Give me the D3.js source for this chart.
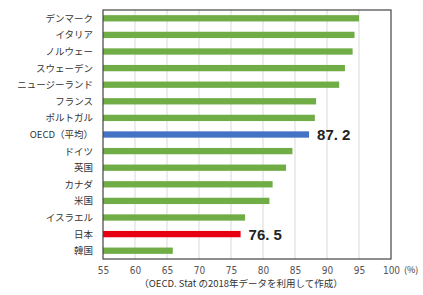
<!DOCTYPE html>
<html><head><meta charset="utf-8">
<script src="https://cdn.jsdelivr.net/npm/d3@7"></script>
<style>body{margin:0;background:#fff}svg{display:block}</style>
</head><body>
<script>
const categories = ["デンマーク","イタリア","ノルウェー","スウェーデン","ニュージーランド","フランス","ポルトガル","OECD（平均）","ドイツ","英国","カナダ","米国","イスラエル","日本","韓国"];
const values = [95.0,94.3,94.0,92.8,91.9,88.3,88.1,87.2,84.6,83.6,81.5,81.0,77.2,76.5,65.9];
const highlight = {"OECD（平均）":{color:"#4472c4",label:"87. 2"},"日本":{color:"#e60012",label:"76. 5"}};
const xTicks = [55,60,65,70,75,80,85,90,95,100];
const unitLabel = "(%)";
const sourceNote = "（OECD. Stat の2018年データを利用して作成）";

const W=423,H=295;
const m={l:103,r:32,t:10,b:36};
const svg=d3.select("body").append("svg").attr("width",W).attr("height",H);
const x=d3.scaleLinear().domain([55,100]).range([m.l,W-m.r]);
const y=d3.scaleBand().domain(categories).range([m.t,H-m.b]).paddingInner(0.62).paddingOuter(0.31);
const font="'Noto Sans CJK JP','Noto Sans',sans-serif";

svg.append("g").selectAll("line").data(xTicks.slice(1,-1)).join("line")
  .attr("x1",d=>x(d)).attr("x2",d=>x(d)).attr("y1",m.t).attr("y2",H-m.b)
  .attr("stroke","#d9d9d9").attr("stroke-width",1);

svg.append("g").selectAll("rect").data(categories).join("rect")
  .attr("x",x(55)).attr("y",d=>y(d)).attr("height",y.bandwidth())
  .attr("width",(d,i)=>x(values[i])-x(55))
  .attr("fill",d=>highlight[d]?highlight[d].color:"#70ad47");

svg.append("g").selectAll("text").data(categories.filter(d=>highlight[d])).join("text")
  .attr("x",d=>x(values[categories.indexOf(d)])+8)
  .attr("y",d=>y(d)+y.bandwidth()/2)
  .attr("dy","0.36em")
  .attr("font-family","'Liberation Sans Narrow','Liberation Sans',sans-serif")
  .attr("font-weight","bold").attr("font-size",15).attr("fill","#222")
  .text(d=>highlight[d].label);

svg.append("rect").attr("x",m.l).attr("y",m.t).attr("width",W-m.r-m.l).attr("height",H-m.b-m.t)
  .attr("fill","none").attr("stroke","#444").attr("stroke-width",1.2);

svg.append("g").selectAll("text").data(categories).join("text")
  .attr("x",m.l-10).attr("y",d=>y(d)+y.bandwidth()/2).attr("dy","0.36em")
  .attr("text-anchor","end").attr("font-family",font).attr("font-size",9.5).attr("fill","#333")
  .text(d=>d);

const xa=svg.append("g").attr("transform",`translate(0,${H-m.b})`)
  .call(d3.axisBottom(x).tickValues(xTicks).tickSize(0).tickPadding(8));
xa.select(".domain").remove();
xa.selectAll("text").attr("font-family","'Liberation Sans Narrow','DejaVu Sans Condensed',sans-serif").attr("font-size",10).attr("fill","#555");

svg.append("text").attr("x",404).attr("y",H-m.b+14).attr("font-family",font).attr("font-size",9).attr("fill","#333").text(unitLabel);
svg.append("text").attr("x",241).attr("y",287).attr("text-anchor","middle").attr("font-family",font).attr("font-size",9.5).attr("fill","#333").text(sourceNote);
</script>
</body></html>
